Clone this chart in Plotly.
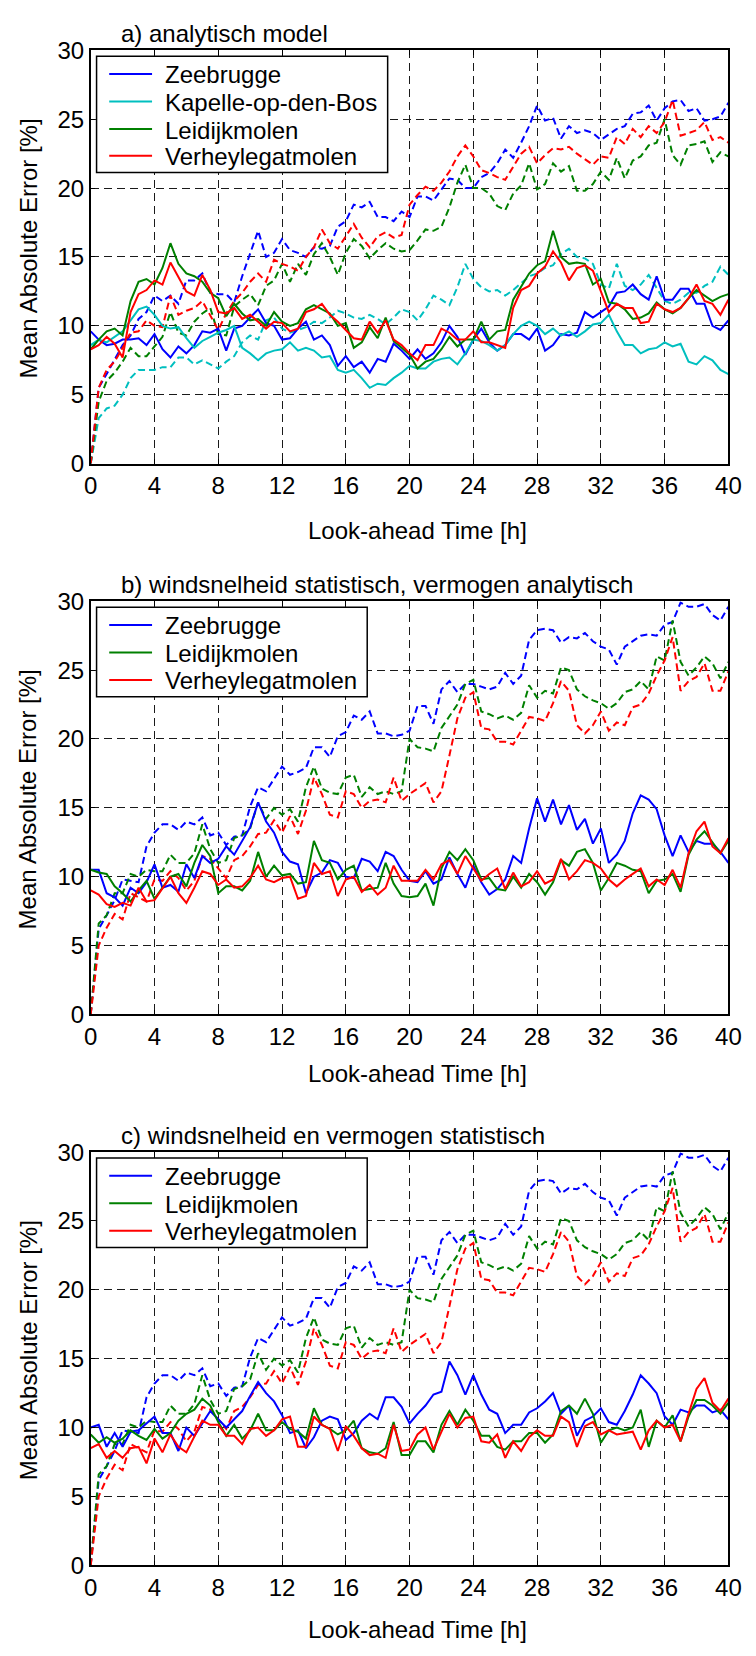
import plotly.graph_objects as go

# ---------------- data ----------------
hours = [i * 0.5 for i in range(81)]
x_ticks = [0, 4, 8, 12, 16, 20, 24, 28, 32, 36, 40]
y_ticks = [0, 5, 10, 15, 20, 25, 30]

panel_titles = ["a) analytisch model",
                "b) windsnelheid statistisch, vermogen analytisch",
                "c) windsnelheid en vermogen statistisch"]
x_title = "Look-ahead Time [h]"
y_title = "Mean Absolute Error [%]"

stations_a = ["Zeebrugge", "Kapelle-op-den-Bos", "Leidijkmolen", "Verheylegatmolen"]
stations_bc = ["Zeebrugge", "Leidijkmolen", "Verheylegatmolen"]

# panel a - solid
a_zee_solid = [9.6, 9.0, 8.6, 8.7, 9.0, 9.0, 9.1, 8.6, 9.4, 8.3,
               7.7, 8.5, 8.0, 8.6, 9.6, 9.5, 9.8, 8.2, 9.8, 10.0,
               10.6, 11.2, 10.2, 10.0, 9.0, 9.1, 9.8, 10.3, 9.0, 9.3,
               8.6, 7.1, 7.8, 7.0, 7.4, 6.6, 7.6, 7.4, 8.7, 8.2,
               7.6, 8.3, 7.6, 8.0, 8.8, 10.0, 9.2, 7.9, 9.0, 9.8,
               8.8, 8.2, 8.6, 9.4, 9.4, 9.0, 9.8, 8.2, 8.6, 9.4,
               9.3, 9.5, 11.0, 10.6, 11.0, 11.4, 12.4, 12.5, 13.0, 12.3,
               11.9, 13.6, 11.9, 11.9, 12.7, 12.7, 11.6, 11.6, 10.0, 9.7,
               10.4]
a_kap_solid = [8.6, 9.0, 8.8, 9.2, 9.6, 10.4, 11.2, 11.4, 10.8, 10.0,
               9.8, 9.9, 9.1, 8.4, 8.9, 9.2, 9.5, 9.7, 10.0, 8.4,
               8.0, 7.5, 8.0, 8.2, 8.3, 8.8, 8.2, 8.4, 8.2, 7.7,
               7.8, 6.8, 6.6, 6.8, 6.2, 5.5, 5.8, 5.7, 6.2, 6.6,
               7.1, 6.9, 6.9, 7.4, 7.6, 7.7, 7.2, 8.0, 9.0, 8.9,
               8.6, 8.2, 8.6, 9.4, 10.0, 10.3, 10.0, 9.4, 9.8, 9.3,
               9.6, 9.2, 9.6, 10.1, 10.2, 10.8, 9.6, 8.6, 8.6, 8.0,
               8.3, 8.4, 8.8, 8.5, 8.7, 7.4, 7.2, 7.8, 7.5, 6.8,
               6.5]
a_lei_solid = [8.3, 9.0, 9.6, 9.8, 9.3, 11.8, 13.2, 13.4, 13.0, 14.2,
               16.0, 14.5, 13.8, 13.6, 13.2, 12.4, 12.0, 10.7, 11.6, 10.9,
               10.4, 10.5, 10.0, 11.0, 10.3, 10.0, 10.2, 11.2, 11.5, 11.2,
               10.9, 10.0, 10.2, 8.4, 8.8, 9.9, 9.1, 10.6, 8.9, 8.4,
               7.9, 6.9, 7.4, 7.6, 8.3, 9.2, 8.5, 9.0, 9.0, 10.3,
               9.0, 9.6, 9.7, 11.9, 12.9, 13.8, 14.4, 14.7, 16.9, 15.0,
               14.5, 14.6, 14.5, 13.0, 13.4, 11.7, 11.6, 11.2, 10.5, 10.6,
               10.9, 11.7, 11.2, 10.9, 11.3, 12.0, 12.6, 12.2, 11.8, 12.1,
               12.3]
a_ver_solid = [8.3, 8.6, 9.2, 8.7, 7.7, 11.0, 12.3, 12.6, 13.3, 13.0,
               14.6, 13.6, 12.5, 12.2, 13.7, 12.6, 11.0, 10.9, 11.3, 10.5,
               10.8, 10.3, 9.8, 10.3, 10.2, 9.6, 9.8, 11.0, 11.2, 11.6,
               10.8, 10.3, 9.7, 9.1, 9.0, 10.3, 9.5, 10.4, 9.0, 8.6,
               8.0, 7.5, 8.6, 8.6, 9.8, 9.5, 9.0, 9.0, 9.6, 8.8,
               8.8, 8.6, 8.4, 11.3, 12.6, 12.9, 13.8, 14.3, 15.4, 14.6,
               13.3, 14.2, 14.4, 14.0, 12.5, 11.0, 11.6, 11.3, 11.3, 10.2,
               10.3, 11.6, 11.2, 11.0, 11.3, 12.0, 13.0, 11.8, 11.6, 10.8,
               11.9]
# panel a - dashed
a_zee_dash = [0.0, 5.5, 6.5, 7.6, 8.6, 9.3, 10.5, 11.0, 12.2, 11.8,
              12.2, 11.6, 13.3, 13.3, 13.8, 12.4, 12.3, 12.3, 11.7, 13.6,
              15.3, 16.9, 15.0, 15.3, 16.3, 15.5, 15.3, 15.0, 15.7, 15.6,
              15.8, 17.2, 17.6, 18.8, 18.6, 19.0, 17.9, 17.9, 17.6, 18.3,
              17.9, 19.4, 19.4, 19.1, 19.9, 20.7, 20.6, 20.0, 20.0, 20.8,
              21.1, 21.8, 22.8, 22.2, 23.3, 24.5, 26.0, 24.9, 25.1, 23.6,
              24.5, 24.0, 24.2, 24.0, 23.5, 23.9, 24.3, 24.5, 25.4, 25.5,
              26.0, 24.9, 25.8, 26.3, 26.4, 25.6, 25.8, 24.9, 25.0, 25.2,
              26.2]
a_kap_dash = [0.0, 3.3, 4.0, 4.2, 5.0, 6.2, 6.8, 6.8, 6.8, 7.0,
              7.0, 7.7, 7.7, 7.2, 7.5, 7.2, 6.9, 7.4, 7.8, 8.8,
              9.3, 9.0, 10.4, 10.6, 9.8, 9.5, 9.7, 9.9, 10.3, 10.2,
              10.6, 11.1, 10.9, 10.6, 10.5, 10.8, 10.5, 10.1, 10.6, 11.2,
              11.0, 10.4, 11.2, 12.2, 11.9, 11.5, 12.8, 14.5, 13.4, 12.8,
              12.5, 12.6, 12.2, 12.6, 13.1, 13.6, 13.8, 14.2, 14.4, 15.2,
              15.6, 15.0, 14.9, 14.5, 13.0, 12.7, 14.5, 12.9, 12.6, 13.0,
              13.7, 12.7, 11.8, 11.6, 11.9, 12.4, 12.4, 12.9, 13.2, 14.3,
              13.7]
a_lei_dash = [0.0, 4.5, 6.0, 6.6, 7.4, 8.4, 7.8, 7.8, 8.5, 9.2,
              11.0, 9.5, 9.3, 10.3, 10.9, 11.3, 9.4, 9.3, 11.4, 11.9,
              12.3, 11.5, 12.9, 13.3, 14.5, 13.2, 14.5, 13.7, 15.2, 16.0,
              15.0, 13.7, 15.3, 16.3, 15.8, 14.9, 15.5, 16.0, 15.6, 15.4,
              15.5, 16.2, 17.0, 16.9, 17.2, 18.6, 20.4, 21.7, 20.0, 20.0,
              19.6, 18.7, 18.4, 19.6, 20.2, 21.8, 19.9, 20.3, 21.8, 21.2,
              21.6, 19.8, 19.8, 20.3, 21.2, 20.6, 22.2, 20.7, 22.0, 22.3,
              23.1, 23.3, 25.0, 22.4, 21.7, 23.1, 23.2, 23.4, 21.9, 22.6,
              22.3]
a_ver_dash = [0.0, 5.5, 6.8, 7.4, 8.4, 9.5, 9.6, 10.4, 10.0, 9.9,
              12.2, 10.8, 11.1, 11.3, 11.8, 10.8, 9.7, 10.9, 11.8, 12.4,
              13.2, 13.8, 13.2, 14.8, 14.5, 14.3, 14.0, 15.0, 15.7, 17.0,
              16.0, 15.6, 16.5, 17.4, 16.4, 15.7, 16.5, 16.8, 16.4, 16.6,
              18.8, 19.5, 20.1, 19.8, 20.4, 21.2, 22.3, 23.1, 22.3, 21.3,
              21.1, 20.8, 20.6, 21.5, 22.5, 23.0, 21.8, 22.4, 22.9, 22.8,
              23.0, 22.5, 22.1, 21.7, 22.3, 22.2, 23.7, 23.2, 24.3, 23.7,
              24.5, 24.0, 24.8, 26.4, 23.8, 24.0, 24.2, 24.8, 23.5, 23.7,
              23.3]

# panel b - solid
b_zee_solid = [10.5, 10.5, 8.8, 8.5, 7.9, 9.2, 8.8, 9.6, 10.9, 9.2,
               9.4, 8.9, 10.9, 9.9, 11.5, 11.0, 11.3, 12.2, 11.6, 12.6,
               13.6, 15.4, 14.0, 13.2, 11.8, 11.1, 10.9, 8.8, 10.0, 10.3,
               11.2, 11.0, 10.0, 9.9, 11.3, 11.1, 10.4, 11.8, 11.5, 10.5,
               9.7, 9.6, 10.4, 9.5, 9.8, 11.4, 10.2, 9.2, 10.8, 9.6,
               8.7, 9.1, 9.8, 11.5, 11.0, 13.5, 15.7, 14.0, 15.6, 13.8,
               15.2, 13.4, 14.2, 12.4, 13.5, 11.0, 11.6, 12.6, 14.6, 15.9,
               15.6, 14.9, 13.0, 11.5, 13.0, 11.8, 12.6, 12.4, 12.4, 11.8,
               11.0]
b_lei_solid = [10.5, 10.3, 10.2, 9.3, 8.8, 8.2, 9.0, 9.7, 8.4, 9.2,
               10.0, 10.2, 9.3, 11.0, 12.3, 11.5, 8.8, 9.3, 9.3, 9.0,
               9.7, 11.8, 10.0, 10.8, 10.1, 10.2, 9.5, 9.6, 12.6, 11.2,
               11.0, 9.8, 10.5, 10.8, 9.0, 9.1, 9.2, 11.0, 9.5, 8.6,
               8.5, 8.6, 9.5, 7.9, 10.6, 11.8, 11.2, 12.0, 11.2, 9.8,
               9.9, 9.1, 9.0, 10.0, 9.2, 10.2, 9.6, 8.7, 9.6, 11.2,
               10.8, 11.8, 12.0, 11.0, 9.0, 9.9, 11.0, 10.8, 10.5, 10.4,
               8.8, 9.7, 9.8, 10.2, 8.9, 11.6, 12.7, 13.3, 12.5, 11.7,
               12.6]
b_ver_solid = [9.0, 8.7, 8.0, 7.8, 8.1, 7.9, 9.2, 8.2, 8.3, 9.2,
               10.0, 8.8, 8.1, 9.2, 10.4, 10.2, 9.4, 9.8, 9.2, 9.3,
               9.9, 10.8, 9.8, 9.6, 9.9, 10.0, 8.4, 8.6, 11.0, 10.2,
               10.4, 8.6, 9.8, 10.0, 8.9, 9.4, 8.7, 9.2, 10.8, 9.7,
               9.7, 9.7, 10.5, 9.8, 10.9, 11.2, 10.2, 11.5, 10.6, 9.7,
               10.2, 10.6, 9.1, 10.3, 9.3, 9.6, 10.4, 9.5, 9.8, 11.3,
               9.8, 10.4, 11.2, 11.0, 10.6, 9.8, 9.3, 9.8, 10.2, 10.6,
               9.3, 9.8, 9.4, 10.5, 9.2, 11.7, 13.3, 14.0, 12.2, 11.7,
               12.8]

# panels b and c - dashed (identical in both panels)
bc_zee_dash = [0.0, 6.2, 7.2, 8.3, 9.8, 9.7, 9.6, 12.2, 13.2, 13.8,
               13.8, 13.4, 14.0, 13.8, 14.3, 13.0, 13.2, 12.3, 12.9, 13.0,
               15.1, 16.5, 16.2, 17.1, 18.0, 17.4, 17.6, 17.9, 19.4, 19.4,
               18.7, 20.2, 20.5, 21.7, 21.4, 22.0, 20.4, 20.4, 20.2, 20.3,
               20.6, 22.4, 22.4, 21.1, 23.6, 24.2, 23.4, 24.0, 24.0, 23.8,
               23.6, 23.8, 24.8, 24.0, 24.6, 27.2, 27.9, 28.0, 27.9, 27.0,
               27.4, 27.3, 27.7, 27.1, 26.7, 26.5, 25.4, 26.7, 27.1, 27.5,
               27.6, 27.5, 28.3, 28.5, 29.9, 29.6, 29.6, 29.8, 29.0, 28.6,
               29.6]
bc_lei_dash = [0.0, 6.6, 7.2, 8.8, 8.8, 10.2, 10.0, 10.5, 10.4, 10.4,
               11.6, 11.0, 11.0, 11.7, 13.8, 12.0, 11.0, 11.2, 12.8, 13.0,
               13.5, 15.4, 14.2, 15.0, 14.5, 14.9, 14.0, 16.5, 18.0, 16.4,
               16.1, 16.0, 17.2, 17.4, 15.8, 16.5, 16.0, 16.2, 16.0, 16.2,
               20.0, 19.4, 19.3, 19.1, 20.8, 21.7, 22.5, 24.0, 24.3, 22.0,
               21.8, 21.5, 21.7, 21.4, 21.9, 23.9, 23.0, 23.5, 23.3, 25.2,
               25.0, 23.6, 23.1, 22.8, 22.6, 22.2, 22.6, 23.4, 23.6, 24.2,
               23.6, 26.0, 25.7, 28.6, 25.6, 24.6, 25.2, 26.0, 25.5, 24.4,
               25.6]
bc_ver_dash = [0.0, 5.0, 6.3, 7.3, 6.9, 8.8, 8.5, 8.2, 9.8, 9.7,
               10.4, 9.9, 9.0, 9.7, 11.5, 11.3, 10.6, 9.9, 11.2, 11.5,
               12.2, 13.1, 13.2, 14.1, 13.2, 14.4, 13.1, 14.8, 17.2, 16.0,
               14.5, 14.3, 16.2, 16.0, 15.0, 15.5, 15.6, 15.4, 17.2, 15.5,
               16.0, 16.4, 16.8, 15.4, 16.2, 18.8, 21.5, 23.0, 23.4, 20.8,
               20.7, 19.8, 19.8, 19.6, 20.6, 21.6, 21.5, 21.3, 22.6, 24.2,
               23.5, 21.0, 20.4, 21.0, 22.0, 20.6, 21.2, 21.0, 22.3, 22.5,
               23.3, 24.6, 25.7, 27.4, 23.5, 24.2, 24.5, 25.5, 23.5, 23.5,
               24.9]

# panel c - solid
c_zee_solid = [10.0, 10.2, 8.6, 9.6, 8.6, 9.7, 9.8, 10.3, 10.8, 9.6,
               9.6, 8.3, 10.0, 9.4, 10.3, 11.2, 10.6, 10.0, 10.6, 11.2,
               12.3, 13.3, 12.5, 11.9, 10.9, 9.6, 9.8, 8.5, 9.3, 10.5,
               10.8, 10.6, 9.1, 9.6, 10.5, 11.0, 10.6, 12.2, 12.2, 11.5,
               10.3, 11.0, 11.6, 12.4, 12.6, 14.8, 13.8, 12.4, 13.8, 12.4,
               11.3, 11.0, 9.6, 10.2, 10.2, 11.1, 11.4, 11.9, 12.5, 11.0,
               11.6, 9.4, 10.5, 10.8, 11.4, 10.4, 10.2, 11.2, 12.4, 13.8,
               13.2, 12.5, 10.8, 10.2, 11.3, 11.1, 11.6, 11.6, 11.1, 11.3,
               10.6]
c_lei_solid = [9.5, 8.9, 9.3, 8.9, 9.2, 9.8, 9.4, 9.1, 9.9, 9.2,
               9.6, 10.5, 11.0, 11.3, 12.1, 11.6, 10.4, 9.4, 10.2, 9.2,
               9.8, 11.0, 9.8, 9.8, 10.4, 9.9, 9.7, 9.2, 11.4, 10.2,
               9.9, 9.5, 9.8, 10.5, 8.5, 8.2, 8.1, 8.5, 10.4, 8.0,
               8.0, 9.0, 9.0, 8.2, 10.2, 11.2, 10.2, 11.3, 10.5, 9.4,
               9.4, 8.6, 8.4, 9.0, 9.0, 9.6, 9.6, 8.9, 9.5, 11.2,
               11.6, 11.0, 12.1, 11.0, 8.9, 9.8, 10.0, 9.8, 10.0, 11.3,
               8.6, 10.5, 10.0, 10.9, 9.0, 10.8, 12.0, 12.0, 11.6, 11.0,
               11.8]
c_ver_solid = [8.5, 8.8, 7.8, 8.3, 7.8, 8.5, 8.6, 7.4, 9.2, 8.2,
               9.5, 8.6, 8.2, 9.3, 10.5, 10.2, 10.2, 9.4, 9.4, 8.8,
               9.9, 10.0, 9.4, 9.8, 10.6, 10.8, 8.6, 8.6, 10.8, 10.2,
               9.9, 8.3, 10.1, 9.4, 8.5, 8.0, 8.1, 7.8, 10.2, 8.3,
               8.4, 9.5, 10.0, 8.4, 9.7, 11.0, 10.0, 10.7, 10.8, 9.0,
               8.9, 9.5, 7.8, 9.0, 8.3, 9.3, 9.8, 9.4, 9.4, 10.8,
               10.4, 8.6, 10.1, 10.4, 9.5, 9.8, 9.5, 9.6, 9.7, 8.4,
               9.8, 10.5, 10.0, 10.2, 9.0, 11.0, 12.8, 13.6, 11.8, 11.2,
               12.1]

# ---------------- styling ----------------
BLUE, CYAN, GREEN, RED = "#0000FF", "#00BFBF", "#008000", "#FF0000"
FONT = "Liberation Sans, Arial, Helvetica, sans-serif"
FS = 24
W, H = 756, 1656
X0, X1 = 86, 741
panels_px = [(37, 457), (597, 1017), (1157, 1577)]
xlabel_px = [525, 1077, 1642]
legend_right_px = [391, 370, 370]
legend_rows_off = [24, 52, 80, 107]


def px(p):
    return p / W


def py(p):
    return 1 - p / H


fig = go.Figure()

panel_series = [
    (stations_a, [a_zee_solid, a_kap_solid, a_lei_solid, a_ver_solid],
     [a_zee_dash, a_kap_dash, a_lei_dash, a_ver_dash], [BLUE, CYAN, GREEN, RED]),
    (stations_bc, [b_zee_solid, b_lei_solid, b_ver_solid],
     [bc_zee_dash, bc_lei_dash, bc_ver_dash], [BLUE, GREEN, RED]),
    (stations_bc, [c_zee_solid, c_lei_solid, c_ver_solid],
     [bc_zee_dash, bc_lei_dash, bc_ver_dash], [BLUE, GREEN, RED]),
]

for k, (names, solids, dashes, colors) in enumerate(panel_series):
    xa = "x" if k == 0 else f"x{k+1}"
    ya = "y" if k == 0 else f"y{k+1}"
    for name, ys, col in zip(names, dashes, colors):
        fig.add_trace(go.Scatter(x=hours, y=ys, mode="lines", name=name,
                                 line=dict(color=col, width=2, dash="7px,4px"),
                                 xaxis=xa, yaxis=ya, showlegend=False))
    for name, ys, col in zip(names, solids, colors):
        fig.add_trace(go.Scatter(x=hours, y=ys, mode="lines", name=name,
                                 line=dict(color=col, width=2),
                                 xaxis=xa, yaxis=ya, showlegend=False))

axis_common = dict(showline=True, linecolor="black", linewidth=1.5, mirror="ticks",
                   ticks="inside", ticklen=5, tickwidth=1, tickcolor="black",
                   showgrid=True, gridcolor="#1a1a1a", gridwidth=1, griddash="8px,5px",
                   zeroline=False, tickfont=dict(family=FONT, size=FS, color="black"))

layout = dict(width=W, height=H, margin=dict(l=0, r=0, t=0, b=0),
              paper_bgcolor="white", plot_bgcolor="white", showlegend=False,
              font=dict(family=FONT, size=FS, color="black"),
              annotations=[], shapes=[])

for k, (top, bot) in enumerate(panels_px):
    sfx = "" if k == 0 else str(k + 1)
    layout["xaxis" + sfx] = dict(axis_common, domain=[px(X0), px(X1)], range=[0, 40],
                                 tickvals=x_ticks, anchor="y" + sfx)
    layout["yaxis" + sfx] = dict(axis_common, domain=[py(bot), py(top)], range=[0, 30],
                                 tickvals=y_ticks, anchor="x" + sfx)
    layout["annotations"].append(dict(text=panel_titles[k], xref="paper", yref="paper",
                                      x=px(115), y=py(top - 17), xanchor="left",
                                      yanchor="middle", showarrow=False,
                                      font=dict(family=FONT, size=FS)))
    layout["annotations"].append(dict(text=x_title, xref="paper", yref="paper",
                                      x=px(422), y=py(xlabel_px[k]), xanchor="center",
                                      yanchor="middle", showarrow=False,
                                      font=dict(family=FONT, size=FS)))
    layout["annotations"].append(dict(text=y_title, xref="paper", yref="paper",
                                      x=px(22), y=py((top + bot) / 2 - 9), xanchor="center",
                                      yanchor="middle", textangle=-90, showarrow=False,
                                      font=dict(family=FONT, size=FS)))
    # legend box (drawn as layout decoration)
    names, solids, dashes, colors = panel_series[k]
    n = len(names)
    box_bottom = top + legend_rows_off[n - 1] + 17
    layout["shapes"].append(dict(type="rect", xref="paper", yref="paper", layer="above",
                                 x0=px(92), x1=px(legend_right_px[k]),
                                 y0=py(box_bottom), y1=py(top + 6),
                                 fillcolor="white", line=dict(color="black", width=1.5)))
    for i, (name, col) in enumerate(zip(names, colors)):
        ry = top + legend_rows_off[i]
        layout["shapes"].append(dict(type="line", xref="paper", yref="paper", layer="above",
                                     x0=px(105), x1=px(149), y0=py(ry), y1=py(ry),
                                     line=dict(color=col, width=2)))
        layout["annotations"].append(dict(text=name, xref="paper", yref="paper",
                                          x=px(160), y=py(ry + 1), xanchor="left",
                                          yanchor="middle", showarrow=False,
                                          font=dict(family=FONT, size=FS)))

fig.update_layout(**layout)
fig.write_html("out.html")
